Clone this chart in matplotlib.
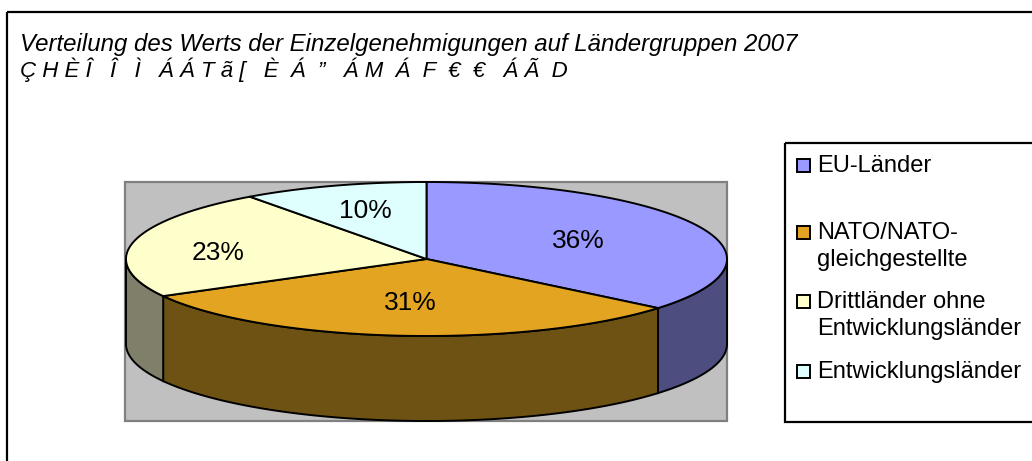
import numpy as np
import matplotlib.pyplot as plt
from matplotlib.patches import Polygon, Rectangle

plt.rcParams['font.family'] = ['Liberation Sans', 'DejaVu Sans']

# Data
labels = ['EU-Länder', 'NATO/NATO-\ngleichgestellte',
          'Drittländer ohne\nEntwicklungsländer', 'Entwicklungsländer']
shares = [36, 31, 23, 10]
top_colors = ['#9999FF', '#E3A521', '#FFFFCC', '#DFFFFF']
side_colors = ['#4D4D80', '#6E5213', '#80806A', '#70807F']
title_1 = 'Verteilung des Werts der Einzelgenehmigungen auf Ländergruppen 2007'
title_2 = 'Ç H È Î   Î   Ì   Á Á T ã [   È  Á  ”   Á M  Á  F  €  €   Á Ã  D'

fig = plt.figure(figsize=(10.32, 4.61), dpi=100)
ax = fig.add_axes([0, 0, 1, 1])
ax.set_xlim(0, 1032)
ax.set_ylim(461, 0)
ax.axis('off')

# outer chart frame
ax.add_patch(Rectangle((7, 12), 1040, 470, fill=False, ec='black', lw=1.6))
ax.text(20, 51, title_1, fontsize=17.3, style='italic', va='baseline')
ax.text(20, 77, title_2, fontsize=16, style='italic', va='baseline')

# plot area
ax.add_patch(Rectangle((125, 182), 602, 239, fc='#C0C0C0', ec='#808080', lw=1.6))

# 3d pie geometry (pixels)
cx, cy, a, b, depth = 426.5, 259, 300.5, 77, 85
label_r = [0.56, 0.58, 0.71, 0.66]


def ell(t):
    t = np.radians(t)
    return cx + a * np.cos(t), cy - b * np.sin(t)


bounds = 90 - np.concatenate([[0], np.cumsum(shares)]) * 3.6

# side walls (front half only: -180..0 deg)
for i in range(len(shares)):
    t1, t2 = bounds[i + 1], bounds[i]
    lo, hi = max(t1, -180), min(t2, 0)
    if lo >= hi:
        continue
    ts = np.linspace(lo, hi, 80)
    xs, ys = ell(ts)
    pts = np.vstack([np.column_stack([xs, ys]),
                     np.column_stack([xs[::-1], ys[::-1] + depth])])
    ax.add_patch(Polygon(pts, closed=True, fc=side_colors[i], ec='black', lw=1.4))

# top wedges
for i in range(len(shares)):
    ts = np.linspace(bounds[i], bounds[i + 1], 120)
    xs, ys = ell(ts)
    pts = np.vstack([[cx, cy], np.column_stack([xs, ys])])
    ax.add_patch(Polygon(pts, closed=True, fc=top_colors[i], ec='black', lw=1.4,
                         joinstyle='round'))

# percentage labels
for i, s in enumerate(shares):
    t = np.radians((bounds[i] + bounds[i + 1]) / 2)
    r = label_r[i]
    ax.text(cx + a * r * np.cos(t), cy - b * r * np.sin(t) + (6 if i == 2 else 0),
            f'{s}%', fontsize=19, ha='center', va='center')

# legend
ax.add_patch(Rectangle((785, 143), 300, 279, fill=False, ec='black', lw=1.6))
baselines = [172, 239, 308, 378]
for lab, col, yb in zip(labels, top_colors, baselines):
    ax.add_patch(Rectangle((797, yb - 13), 13, 13, fc=col, ec='black', lw=1.4))
    for k, line in enumerate(lab.split('\n')):
        ax.text(817, yb + 27 * k, line, fontsize=17, va='baseline')

fig.savefig('out.png', dpi=100)
